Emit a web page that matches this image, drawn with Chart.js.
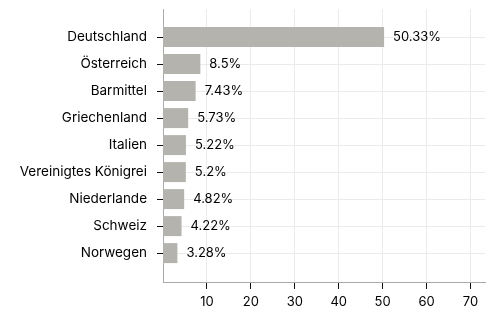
<!DOCTYPE html>
<html>
<head>
<meta charset="utf-8">
<script src="https://cdn.jsdelivr.net/npm/chart.js@4"></script>
<style>
  html, body { margin: 0; padding: 0; background: #fff; }
  #wrap { width: 494px; height: 313px; }
</style>
</head>
<body>
<div id="wrap"><canvas id="chart"></canvas></div>
<script>
// Anteile nach Land (in %)
const countries = ['Deutschland', 'Österreich', 'Barmittel', 'Griechenland', 'Italien',
  'Vereinigtes Königrei', 'Niederlande', 'Schweiz', 'Norwegen'];
const shares = [50.33, 8.5, 7.43, 5.73, 5.22, 5.2, 4.82, 4.22, 3.28];
const xTicks = [10, 20, 30, 40, 50, 60, 70];

const FONT = 'Inter, "DejaVu Sans", sans-serif';
const BAR = '#b4b3ae';
const TEXT = '#000';

// draw the value labels next to each bar
const valueLabels = {
  id: 'valueLabels',
  afterDatasetsDraw(chart) {
    const ctx = chart.ctx;
    const meta = chart.getDatasetMeta(0);
    ctx.save();
    ctx.font = '13px ' + FONT;
    ctx.fillStyle = TEXT;
    ctx.textAlign = 'left';
    ctx.textBaseline = 'middle';
    meta.data.forEach((bar, i) => {
      ctx.fillText(shares[i] + '%', bar.x + 9, bar.y);
    });
    ctx.restore();
  }
};

const ctx = document.getElementById('chart').getContext('2d');
new Chart(ctx, {
  type: 'bar',
  data: {
    datasets: [{
      data: shares.map((v, i) => ({ x: v, y: i })),
      backgroundColor: BAR,
      borderWidth: 0,
      barPercentage: 0.74,
      categoryPercentage: 1
    }]
  },
  options: {
    indexAxis: 'y',
    responsive: true,
    maintainAspectRatio: false,
    animation: false,
    layout: { padding: { top: 9, right: 9, left: 0, bottom: 0 } },
    plugins: {
      legend: { display: false },
      tooltip: { enabled: false }
    },
    scales: {
      x: {
        type: 'linear',
        min: 0,
        max: 73.3,
        afterBuildTicks(scale) {
          scale.ticks = xTicks.map(v => ({ value: v }));
        },
        afterFit(scale) {
          scale.height = 31;
          scale.paddingLeft = 0;
          scale.paddingRight = 0;
        },
        grid: { color: '#ebebeb', tickColor: '#111', tickLength: 7, lineWidth: 1 },
        border: { color: '#aaaaaa', width: 1 },
        ticks: { font: { family: FONT, size: 13 }, color: TEXT, padding: 5, maxRotation: 0 }
      },
      y: {
        type: 'linear',
        reverse: true,
        offset: false,
        min: -1.04,
        max: 9.07,
        afterBuildTicks(scale) {
          scale.ticks = countries.map((c, i) => ({ value: i }));
        },
        afterFit(scale) {
          scale.width = 163;
          scale.paddingTop = 0;
          scale.paddingBottom = 0;
        },
        grid: { offset: false, color: '#ebebeb', tickColor: '#111', tickLength: 6, lineWidth: 1 },
        border: { color: '#aaaaaa', width: 1 },
        ticks: {
          font: { family: FONT, size: 13.5 },
          color: TEXT,
          padding: 10,
          autoSkip: false,
          callback: (v) => countries[v] || ''
        }
      }
    }
  },
  plugins: [valueLabels]
});
</script>
</body>
</html>
